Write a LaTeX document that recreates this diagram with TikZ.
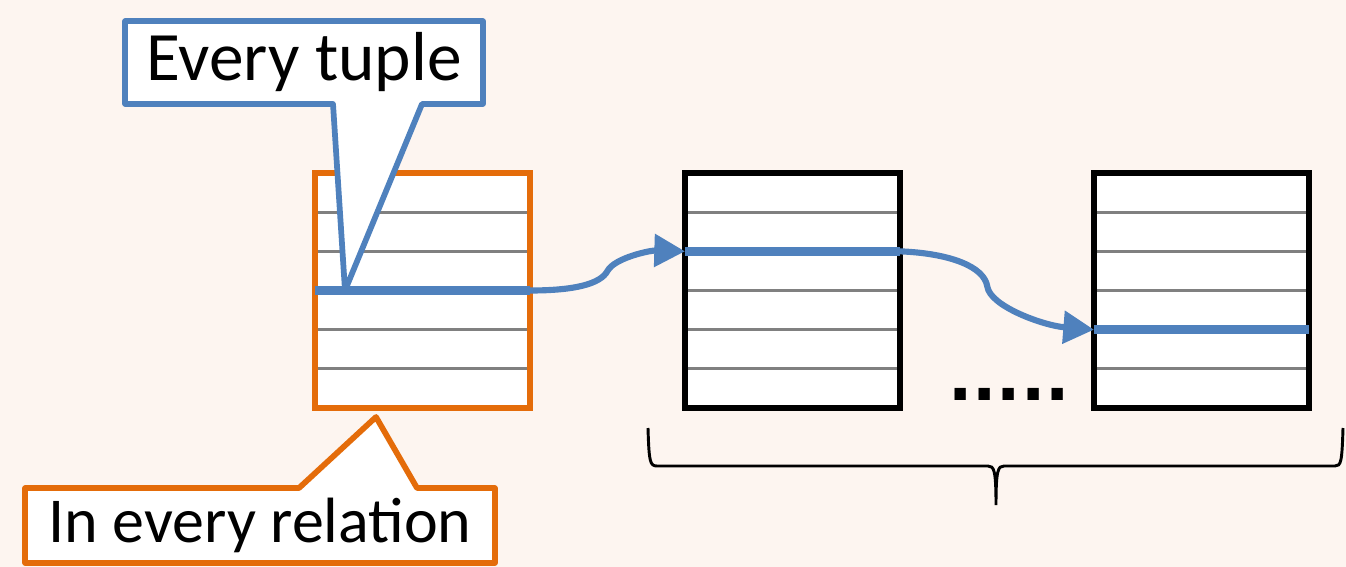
\documentclass[tikz,border=0pt]{standalone}
\usepackage{fontspec}
\setmainfont{Carlito}
\newfontfamily\dotfont{DejaVu Sans}
\usetikzlibrary{arrows.meta,positioning,calc}
\definecolor{pagebg}{RGB}{253,245,240}
\definecolor{relorange}{RGB}{228,108,10}
\definecolor{tupblue}{RGB}{79,129,189}
\definecolor{rowgray}{RGB}{128,128,128}

\begin{document}
\begin{tikzpicture}[
  x=0.75pt, y=-0.75pt,
  rel/.style={rectangle, draw=black, fill=white, line width=4.3pt,
              minimum width=161.25pt, minimum height=176.25pt,
              inner sep=0pt, outer sep=0pt},
  rowline/.style={draw=rowgray, line width=2.2pt,
                  shorten <=2.1pt, shorten >=2.1pt},
  tupline/.style={draw=tupblue, line width=7pt},
  arr/.style={draw=tupblue, line width=4.6pt,
              -{Triangle[length=23pt,width=24pt]}},
  callframe/.style={rectangle, inner sep=0pt, outer sep=0pt},
  callout/.style={fill=white, line width=4.3pt, line join=round},
  lbl/.style={font=\fontsize{48}{58}\selectfont, inner sep=0pt},
  bracepen/.style={draw=black, line width=2.2pt}
]
\fill[pagebg] (0,0) rectangle (1346,567);
\useasboundingbox (0,0) rectangle (1346,567);
% Relations
\node[rel, draw=relorange] (r1) at (422.5,290.5) {};
\node[rel, right=116.25pt of r1] (r2) {};
\node[rel, right=145.5pt of r2]  (r3) {};
\foreach \r in {r1,r2,r3}
  \foreach \k in {1,...,5}
    \draw[rowline] ($(\r.north west)!\k/6!(\r.south west)$)
      -- ($(\r.north east)!\k/6!(\r.south east)$);
% Tuples
\coordinate (t1w) at ($(r1.north west)!3/6!(r1.south west)$);
\coordinate (t1e) at ($(r1.north east)!3/6!(r1.south east)$);
\coordinate (t2w) at ($(r2.north west)!2/6!(r2.south west)$);
\coordinate (t2e) at ($(r2.north east)!2/6!(r2.south east)$);
\coordinate (t3w) at ($(r3.north west)!4/6!(r3.south west)$);
\coordinate (t3e) at ($(r3.north east)!4/6!(r3.south east)$);
\draw[tupline] (t1w) -- (t1e);
\draw[tupline] (t2w) -- (t2e);
\draw[tupline] (t3w) -- (t3e);
% Joins
\draw[arr] (t1e) .. controls +(45,0) and +(-7,13) .. ($(t1e)!0.5!(t2w)$)
  .. controls +(7,-13) and +(-35,-1) .. (t2w);
\draw[arr] (t2e) .. controls +(50,2) and +(-3,-20) .. ($(t2e)!0.45!(t3w)$)
  .. controls +(3,20) and +(-50,-4) .. (t3w);
\node[font=\dotfont\fontsize{48}{58}\selectfont\bfseries, inner sep=0pt,
      anchor=base] (more) at (1009,400) {.....};
% Brace
\coordinate (bl) at (648,428);
\coordinate (bm) at (996,505);
\coordinate (br) at (1343,428);
\draw[bracepen] (bl) .. controls (649,462) and (650,466) .. (657,466)
  -- (988,466) .. controls (994,466) and (996,470) .. (bm)
  .. controls (996,470) and (998,466) .. (1004,466)
  -- (1335,466) .. controls (1341,466) and (1342,462) .. (br);
% Callouts
\node[callframe, minimum width=268.5pt, minimum height=62.25pt]
  (tupbox) at (304,62.5) {};
\draw[callout, draw=tupblue] (tupbox.south west) -- (tupbox.north west)
  -- (tupbox.north east) -- (tupbox.south east)
  -- ($(tupbox.south west)+(297,0)$) -- ($(t1w)+(30,0)$)
  -- ($(tupbox.south west)+(208,0)$) -- cycle;
\node[lbl, font=\fontsize{52}{60}\selectfont] (tuptext) at (tupbox) {Every tuple};
\node[callframe, minimum width=352.5pt, minimum height=56.25pt]
  (relbox) at (260,525.5) {};
\draw[callout, draw=relorange] (relbox.north west)
  -- ($(relbox.north west)+(274,0)$) -- ($(r1.south)+(-46.5,9)$)
  -- ($(relbox.north west)+(392,0)$) -- (relbox.north east)
  -- (relbox.south east) -- (relbox.south west) -- cycle;
\node[lbl] (reltext) at (relbox) {In every relation};
\end{tikzpicture}
\end{document}
